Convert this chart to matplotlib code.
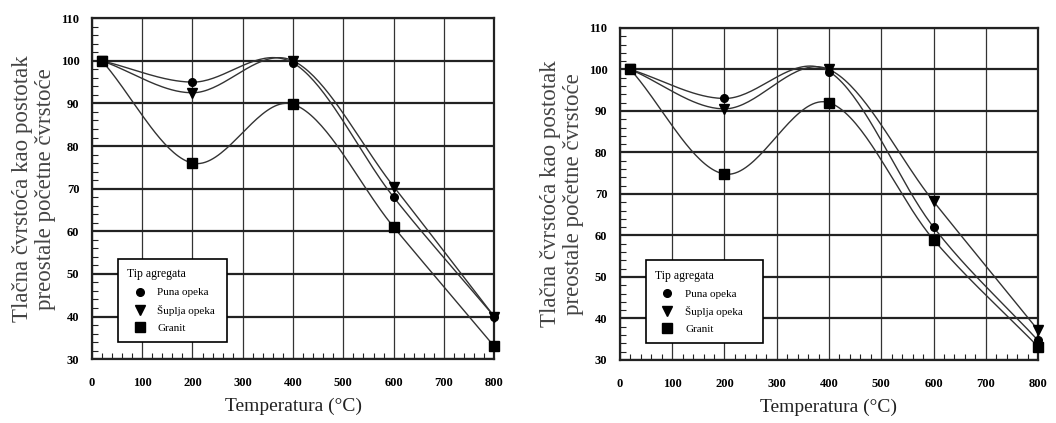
import numpy as np
import matplotlib.pyplot as plt
from matplotlib.ticker import MultipleLocator

# Dane
temperature = [20, 200, 400, 600, 800]

left_puna = [100, 95, 99.5, 68, 40]
left_suplja = [100, 92.5, 100, 70.5, 40]
left_granit = [100, 76, 89.8, 61, 33]

right_puna = [100, 93, 99.5, 62, 34.7]
right_suplja = [100, 90.5, 100, 68.2, 37.2]
right_granit = [100, 74.8, 92, 59, 33.2]

series_names = ['Puna opeka', 'Šuplja opeka', 'Granit']
markers = ['o', 'v', 's']

plt.rcParams['font.family'] = ['Liberation Serif', 'DejaVu Serif']


def smooth(x, y, n=40):
    # Catmull-Rom style cubic Hermite curve, only for drawing the line through the points
    x = np.asarray(x, float)
    y = np.asarray(y, float)
    k = len(x)
    t = np.zeros(k)
    t[0] = (y[1] - y[0]) / (x[1] - x[0])
    t[-1] = (y[-1] - y[-2]) / (x[-1] - x[-2])
    t[1:-1] = (y[2:] - y[:-2]) / (x[2:] - x[:-2])
    xs_all, ys_all = [], []
    for i in range(k - 1):
        h = x[i + 1] - x[i]
        s = np.linspace(0, 1, n)
        h00 = 2 * s**3 - 3 * s**2 + 1
        h10 = s**3 - 2 * s**2 + s
        h01 = -2 * s**3 + 3 * s**2
        h11 = s**3 - s**2
        xs_all.append(x[i] + s * h)
        ys_all.append(h00 * y[i] + h10 * h * t[i] + h01 * y[i + 1] + h11 * h * t[i + 1])
    return np.concatenate(xs_all), np.concatenate(ys_all)


def draw(ax, data, anchor):
    for vals, name, m in zip(data, series_names, markers):
        xs, ys = smooth(temperature, vals)
        ax.plot(xs, ys, color='#333333', linewidth=1.0)
        ax.plot(temperature, vals, linestyle='none', marker=m, color='black',
                markersize=6.5 if m != 'o' else 5.5, label=name, clip_on=False, zorder=5)

    ax.set_xlim(0, 800)
    ax.set_ylim(30, 110)
    ax.xaxis.set_major_locator(MultipleLocator(100))
    ax.yaxis.set_major_locator(MultipleLocator(10))
    ax.xaxis.set_minor_locator(MultipleLocator(20))
    ax.yaxis.set_minor_locator(MultipleLocator(2))
    ax.tick_params(which='both', direction='in', color='#222222')
    ax.tick_params(which='major', length=0)
    ax.tick_params(axis='x', which='major', pad=13)
    ax.tick_params(axis='y', which='major', pad=9)
    ax.tick_params(which='minor', length=4, width=0.8)
    for lab in ax.get_xticklabels() + ax.get_yticklabels():
        lab.set_fontweight('bold')
        lab.set_fontsize(9)
    ax.xaxis.grid(True, color='#333333', linewidth=0.9)
    ax.yaxis.grid(True, color='#222222', linewidth=1.6)
    for s in ax.spines.values():
        s.set_linewidth(1.6)
        s.set_color('#222222')

    ax.set_xlabel('Temperatura (°C)', fontsize=14, labelpad=6, color='#222222')
    ax.set_ylabel('Tlačna čvrstoća kao postotak\npreostale početne čvrstoće',
                  fontsize=16.5, color='#444444', labelpad=3, linespacing=1.15)

    leg = ax.legend(title='Tip agregata', loc='lower left', bbox_to_anchor=anchor,
                    mode='expand', fontsize=8, title_fontsize=8.5, frameon=True,
                    fancybox=False, edgecolor='black', framealpha=1, handletextpad=0.5,
                    handlelength=2.2, borderpad=0.85, labelspacing=0.65, alignment='left',
                    borderaxespad=0)
    leg.get_frame().set_linewidth(1.2)


fig = plt.figure(figsize=(10.56, 4.23), dpi=100)
ax1 = fig.add_axes([0.087, 0.151, 0.381, 0.806])
ax2 = fig.add_axes([0.587, 0.149, 0.396, 0.785])

draw(ax1, [left_puna, left_suplja, left_granit], (0.065, 0.05, 0.27, 0.25))
draw(ax2, [right_puna, right_suplja, right_granit], (0.062, 0.05, 0.28, 0.25))

fig.savefig('out.png', dpi=100)
